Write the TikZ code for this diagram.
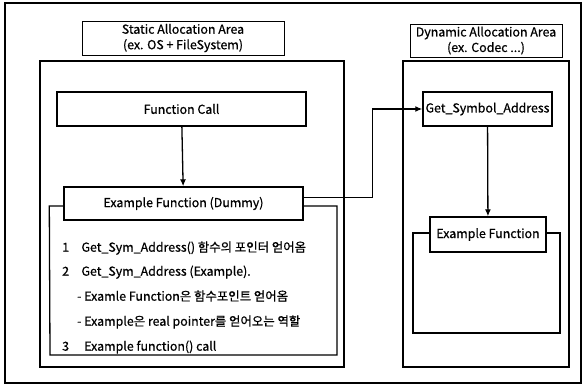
\documentclass[tikz,border=0pt]{standalone}
\usepackage{fontspec}
\setmainfont{Noto Sans CJK KR}
\newfontfamily\heavyfont{Noto Sans CJK KR}[FakeBold=0.7]
\usetikzlibrary{arrows.meta}
\begin{document}
\begin{tikzpicture}[x=1pt, y=-1pt, >={Latex[length=7pt,width=6pt]},
        area node/.style={draw, line width=1.5pt},
        main node/.style={draw, line width=1.4pt, fill=white, inner sep=0pt},
        label node/.style={draw, line width=0.9pt, inner sep=0pt, align=center},
        list line/.style={anchor=mid west, inner sep=0pt},
        wire/.style={line width=1.3pt}]
        \tikzstyle{every node}=[font=\heavyfont\fontsize{12.4}{15.5}\selectfont]
        \useasboundingbox (0,0) rectangle (584,386);
        \draw[line width=1.8pt] (5,3) rectangle (581,383);

          % static side
          \node[area node, minimum width=304pt, minimum height=306pt] (static) at (192,214) {};
          \node[label node, minimum width=202pt, minimum height=34pt] (slabel) at (183,38) {Static Allocation Area\\(ex. OS + FileSystem)};
          \node[main node, minimum width=249pt, minimum height=34pt] (fcall) at (181.5,109) {Function Call};
          \node[main node, minimum width=239pt, minimum height=33pt] (dummy) at (183.5,203.5) {Example Function (Dummy)};

          \node[list line] (s1) at (62,249) {1\quad Get\_Sym\_Address() 함수의 포인터 얻어옴};
          \node[list line] (s2) at (62,273) {2\quad Get\_Sym\_Address (Example).};
          \node[list line] (s3) at (77,298) {- Examle Function은 함수포인트 얻어옴};
          \node[list line] (s4) at (77,323) {- Example은 real pointer를 얻어오는 역할};
          \node[list line] (s5) at (62,348) {3\quad\ Example function() call};

          % dynamic side
          \node[area node, minimum width=166pt, minimum height=306pt] (dynamic) at (486,214) {};
          \node[label node, minimum width=152pt, minimum height=33pt] (dlabel) at (486,40.5) {Dynamic Allocation Area\\(ex. Codec ...)};
          \node[main node, minimum width=129pt, minimum height=34pt] (gsa) at (487.5,109) {Get\_Symbol\_Address};
          \node[main node, minimum width=116pt, minimum height=35pt] (exfunc) at (488,234.5) {Example Function};

          % frames
          \draw[wire] ([yshift=-2.5pt]dummy.west) -- ++(-14,0) -- (50,355) -- (337,355) -- (337,206) -- ([yshift=-2.5pt]dummy.east);
          \draw[wire] ([yshift=1.5pt]exfunc.west) -- (413,233) -- (413,333) -- (560,333) -- (560,233) -- ([yshift=1.5pt]exfunc.east);

          \path[wire, ->]
            (fcall) edge (dummy)
            (gsa) edge (exfunc);
          \draw[wire, ->] ([yshift=6pt]dummy.east) -- ++(69,0) |- (gsa.west);

\end{tikzpicture}
\end{document}
